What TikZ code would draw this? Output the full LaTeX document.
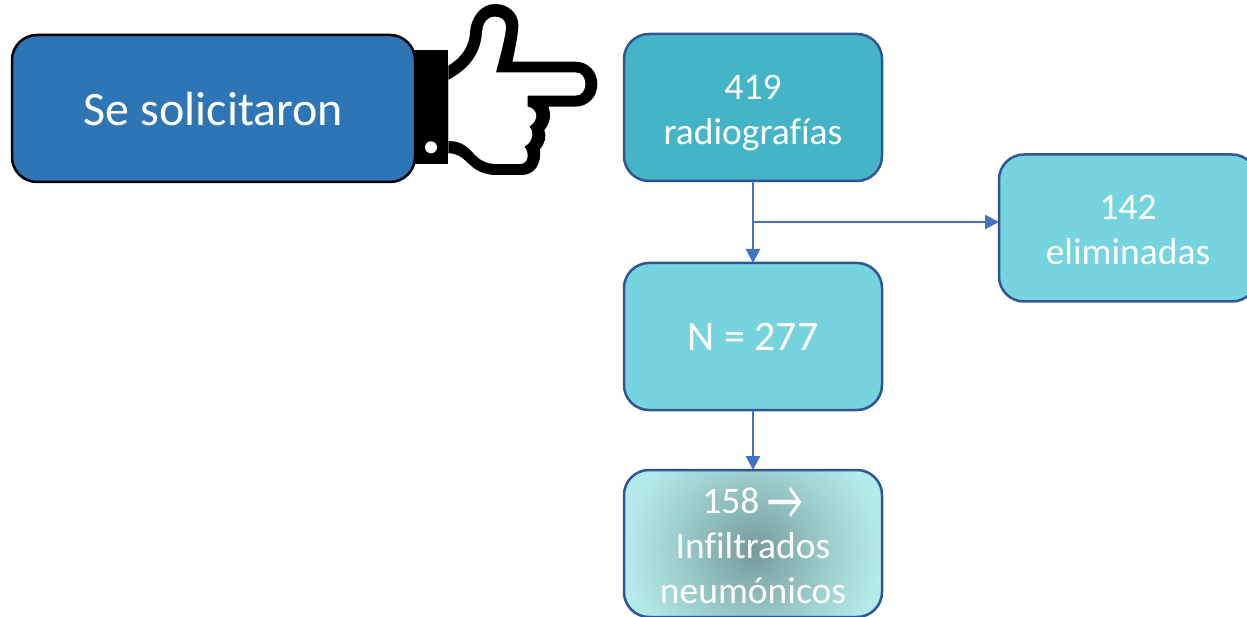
\documentclass[tikz,border=0pt]{standalone}
\usepackage{fontspec}
\setmainfont{Carlito}[Ligatures=NoCommon]
\usetikzlibrary{arrows.meta}
\definecolor{bluefill}{HTML}{2E75B6}
\definecolor{tealdark}{HTML}{45B4C6}
\definecolor{teallight}{HTML}{76D4DF}
\definecolor{edgeblue}{HTML}{2F5597}
\definecolor{arrowblue}{HTML}{4472C4}
\definecolor{glowout}{HTML}{B2EBE9}
\definecolor{glowmid}{HTML}{A0D2D2}
\definecolor{glowin}{HTML}{769A9A}
\pgfdeclareradialshading{glow}{\pgfpoint{0bp}{0bp}}{%
  color(0bp)=(glowin); color(7bp)=(glowin!55!glowmid); color(16bp)=(glowmid); color(24.5bp)=(glowout); color(50bp)=(glowout)}
\newcommand\liftstrut[1]{\rule{0pt}{#1pt}}
\tikzset{
  x=1pt,y=-1pt,
  flowbox/.style={rounded corners=25pt,line width=2.5pt,draw=edgeblue,text=white,
    minimum width=258pt,minimum height=147pt,outer sep=0pt,inner sep=0pt,align=center,
    font=\fontsize{37.5}{45}\selectfont},
  flowarrow/.style={draw=arrowblue,line width=2.75pt,-{Triangle[length=14pt,width=14pt]}}
}
\begin{document}
\begin{tikzpicture}
\useasboundingbox (0,0) rectangle (1247,617);
\begin{scope}[shift={(400,0)},x=.3333pt,y=-.3333pt]
  \fill[black] (35,150) rectangle (145,492);
  \fill[black] (145,197) .. controls (190,170) and (207,135) .. (210,100)
    .. controls (212,50) and (245,12) .. (285,12)
    .. controls (325,12) and (355,40) .. (355,75)
    .. controls (355,100) and (345,150) .. (337,185)
    -- (525,185) .. controls (565,185) and (592,215) .. (592,252)
    .. controls (592,290) and (565,320) .. (525,320)
    -- (445,320) .. controls (455,345) and (450,370) .. (433,390)
    .. controls (440,410) and (435,430) .. (420,447)
    .. controls (425,490) and (405,525) .. (365,525)
    -- (290,525) .. controls (250,525) and (225,510) .. (205,490)
    .. controls (185,470) and (170,460) .. (145,460) -- cycle;
  \fill[white] (145,240) .. controls (200,210) and (240,170) .. (246,100)
    .. controls (248,70) and (260,50) .. (285,50)
    .. controls (305,50) and (318,62) .. (318,80)
    .. controls (318,105) and (300,170) .. (288,217)
    -- (525,217) .. controls (545,217) and (556,232) .. (556,252)
    .. controls (556,272) and (545,287) .. (525,287)
    -- (383,287) -- (383,320)
    .. controls (410,325) and (422,355) .. (388,380)
    .. controls (403,395) and (400,425) .. (373,440)
    .. controls (390,460) and (385,492) .. (360,492)
    -- (290,492) .. controls (260,492) and (240,480) .. (225,465)
    .. controls (200,435) and (180,423) .. (145,423) -- cycle;
  \fill[white] (93,442) circle [radius=18];
\end{scope}
\node[flowbox,draw=black,fill=bluefill,minimum width=403pt,font=\fontsize{48}{54}\selectfont] (sol) at (213.5,108.5) {\liftstrut{35}Se solicitaron};
\node[flowbox,fill=tealdark] (rad) at (753,107.5) {\liftstrut{36}419\\radiografías};
\node[flowbox,fill=teallight] (elim) at (1128,228) {\liftstrut{28}142\\eliminadas};
\node[flowbox,fill=teallight,font=\fontsize{42}{50}\selectfont] (n) at (753,336.5) {\liftstrut{29}N = 277};
\fill[glowout,rounded corners=25pt] (624,470) rectangle (882,617);
\begin{scope}
  \clip[rounded corners=25pt] (624,470) rectangle (882,617);
  \shade[shading=glow] (753,550) circle [radius=130];
\end{scope}
\node[flowbox,fill=none] (res) at (753,543.5) {\liftstrut{30}158 \raisebox{-6pt}{\scalebox{1.05}[1.5]{→}}\\Infiltrados\\neumónicos};
\coordinate (branch) at (753,222);
\draw[flowarrow] (rad.south) -- (n.north);
\draw[flowarrow] (branch) -- (elim.west |- branch);
\draw[flowarrow] (n.south) -- (res.north);
\end{tikzpicture}
\end{document}
